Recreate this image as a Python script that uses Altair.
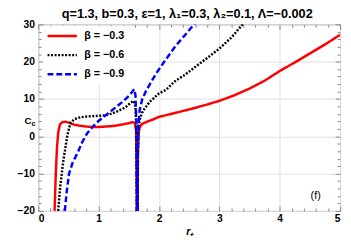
import altair as alt
import pandas as pd

beta_labels = ["β = −0.3", "β = −0.6", "β = −0.9"]
line_colors = ["#ff0000", "#000000", "#0000ff"]
line_dashes = [[1, 0], [2, 1.6], [6, 3]]

red_r = [0.27, 0.29, 0.31, 0.33, 0.36, 0.40, 0.45, 0.50, 0.60, 0.70, 0.80, 0.90, 1.00, 1.10, 1.20, 1.30, 1.40, 1.50, 1.56, 1.60, 1.62, 1.63, 1.635,
         1.645, 1.65, 1.66, 1.68, 1.72, 1.80, 1.90, 2.00, 2.25, 2.50, 2.75, 3.00, 3.25, 3.50, 3.75, 4.00, 4.25, 4.50, 4.75, 5.00]
red_c = [-20, -10, -3, 1, 3.2, 3.8, 3.9, 3.7, 3.1, 2.8, 2.6, 2.5, 2.5, 2.6, 2.7, 2.9, 3.2, 3.5, 3.8, 3.6, 1.5, -8, -25,
         -25, -5, 0.5, 2.4, 3.3, 3.9, 4.5, 5.2, 6.2, 7.2, 8.3, 9.5, 11.0, 12.8, 14.9, 17.5, 19.8, 22.2, 24.6, 27.2]

black_r = [0.33, 0.36, 0.39, 0.42, 0.45, 0.48, 0.51, 0.54, 0.60, 0.70, 0.80, 0.90, 1.00, 1.10, 1.20, 1.30, 1.40, 1.47, 1.53, 1.58, 1.61, 1.625, 1.635,
           1.645, 1.65, 1.66, 1.68, 1.72, 1.76, 1.85, 2.00, 2.12, 2.25, 2.44, 2.60, 2.80, 3.00, 3.20, 3.36, 3.40]
black_c = [-20, -14, -10, -6, -3, 0, 2.2, 3.7, 4.6, 5.1, 5.3, 5.4, 5.5, 5.6, 6.0, 6.6, 7.4, 8.1, 9.0, 9.5, 8.0, 2.0, -25,
           -25, -5, 2.0, 4.5, 6.3, 7.4, 9.3, 11.5, 12.5, 14.6, 16.6, 18.6, 21.0, 23.5, 26.5, 29.5, 30.3]

blue_r = [0.44, 0.47, 0.51, 0.57, 0.65, 0.73, 0.81, 0.90, 0.97, 1.05, 1.13, 1.20, 1.31, 1.40, 1.50, 1.56, 1.59, 1.61, 1.625, 1.635,
          1.645, 1.65, 1.66, 1.68, 1.72, 1.78, 1.85, 1.96, 2.10, 2.28, 2.45, 2.58, 2.62]
blue_c = [-20, -15, -10, -7, -4.5, -1.5, 0.8, 2.5, 3.7, 4.8, 5.8, 6.7, 8.1, 9.3, 10.8, 12.0, 12.6, 11.0, 4.0, -25,
          -25, -5, 3.0, 7.0, 9.8, 12.0, 14.0, 17.0, 20.3, 24.3, 27.5, 30.0, 30.8]

x_major = [0, 1, 2, 3, 4, 5]
x_minor = [round(0.2 * i, 1) for i in range(26) if i % 5 != 0]
y_major = [-20, -10, 0, 10, 20, 30]
y_minor = [v for v in range(-20, 31, 2) if v % 10 != 0]

title_text = "q=1.3, b=0.3, ε=1, λ₁=0.3, λ₂=0.1, Λ=−0.002"

rows = []
for lab, rs, cs in zip(beta_labels, [red_r, black_r, blue_r], [red_c, black_c, blue_c]):
    for r, c in zip(rs, cs):
        rows.append({"r": r, "C": c, "beta": lab})
df = pd.DataFrame(rows)

W, H = 309, 191
FONT = "Liberation Sans"
xs = alt.Scale(domain=[0, 5], nice=False, zero=False)
ys = alt.Scale(domain=[-20, 30], nice=False, zero=False)

leg = alt.Legend(orient="none", legendX=5, legendY=1.5, title=None, fillColor="white",
                 padding=3, symbolType="stroke", symbolSize=900, symbolStrokeWidth=2.5,
                 labelFont=FONT, labelFontSize=11, labelFontWeight="bold", labelOffset=6,
                 clipHeight=15, rowPadding=4.5, direction="vertical", labelColor="black")

lines = alt.Chart(df).mark_line(clip=True, strokeWidth=2.5).encode(
    x=alt.X("r:Q", scale=xs, axis=alt.Axis(orient="bottom", title="r₊", values=x_major, grid=True,
                                           gridColor="#e0e0e0", ticks=False, domain=False,
                                           labelFont=FONT, labelFontSize=10.5, labelFontWeight="bold",
                                           labelColor="black", labelPadding=3, titleFont=FONT,
                                           titleFontSize=10.5, titleFontWeight="bold", titleFontStyle="italic",
                                           titlePadding=3, titleColor="black")),
    y=alt.Y("C:Q", scale=ys, axis=alt.Axis(orient="left", title=None, values=y_major, grid=True,
                                           gridColor="#e0e0e0", ticks=False, domain=False,
                                           labelFont=FONT, labelFontSize=10.5, labelFontWeight="bold",
                                           labelColor="black", labelPadding=4)),
    color=alt.Color("beta:N", scale=alt.Scale(domain=beta_labels, range=line_colors), legend=leg),
    strokeDash=alt.StrokeDash("beta:N", scale=alt.Scale(domain=beta_labels, range=line_dashes), legend=leg),
)


def tick_layer(xorient, yorient, xvals, yvals, size):
    return alt.Chart(df).mark_point(opacity=0, clip=True).encode(
        x=alt.X("r:Q", scale=xs, axis=alt.Axis(orient=xorient, offset=-H, values=xvals, tickSize=size,
                                               labels=False, domain=False, grid=False, title=None,
                                               tickColor="#888888", tickWidth=1)),
        y=alt.Y("C:Q", scale=ys, axis=alt.Axis(orient=yorient, offset=-W, values=yvals, tickSize=size,
                                               labels=False, domain=False, grid=False, title=None,
                                               tickColor="#888888", tickWidth=1)),
    )


t1 = tick_layer("bottom", "right", x_major, y_major, 5)
t2 = tick_layer("top", "left", x_major, y_major, 5)
t3 = tick_layer("bottom", "right", x_minor, y_minor, 3)
t4 = tick_layer("top", "left", x_minor, y_minor, 3)

txt_df = pd.DataFrame({"t": ["x"]})
c_main = alt.Chart(txt_df).mark_text(text="C", font=FONT, fontSize=10, fontWeight="bold",
                                     align="right", baseline="middle", color="black").encode(
    x=alt.value(-7), y=alt.value(99))
c_sub = alt.Chart(txt_df).mark_text(text="c", font=FONT, fontSize=7.5, fontWeight="bold",
                                    align="left", baseline="middle", color="black").encode(
    x=alt.value(-7), y=alt.value(102))
f_lab = alt.Chart(txt_df).mark_text(text="(f)", font=FONT, fontSize=11,
                                    align="center", baseline="middle", color="black").encode(
    x=alt.value(284), y=alt.value(176))

chart = alt.layer(lines, t1, t2, t3, t4, c_main, c_sub, f_lab).resolve_axis(
    x="independent", y="independent"
).properties(
    width=W, height=H,
    autosize=alt.AutoSizeParams(type="none"),
    padding={"left": 31, "top": 14, "right": 3, "bottom": 26},
    title=alt.TitleParams(title_text, font=FONT, fontSize=13, fontWeight="bold", anchor="middle",
                          offset=6, dy=7, dx=-2, color="black"),
).configure_view(stroke="#999999", strokeWidth=1)

chart.save("out.html", embed_options={"renderer": "svg", "actions": False})
